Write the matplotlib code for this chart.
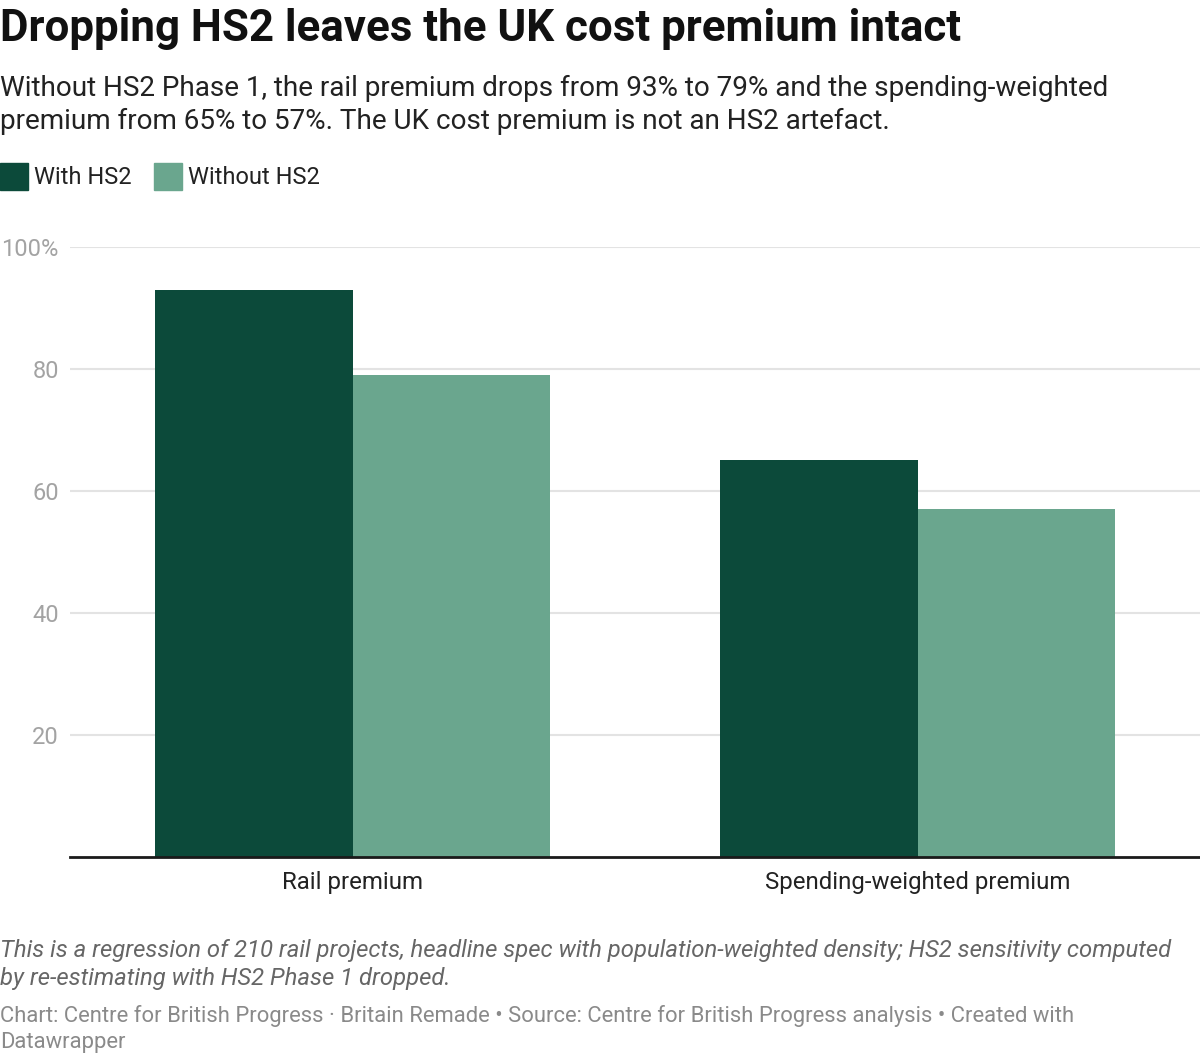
import matplotlib
matplotlib.use('Agg')
import matplotlib.pyplot as plt
from matplotlib.patches import Rectangle
import numpy as np

plt.rcParams['font.family'] = ['Roboto', 'DejaVu Sans']

categories = ['Rail premium', 'Spending-weighted premium']
with_hs2 = [93, 65]
without_hs2 = [79, 57]
series_names = ['With HS2', 'Without HS2']
y_ticks = [20, 40, 60, 80, 100]
y_tick_labels = ['20', '40', '60', '80', '100%']

dark = '#0c4a3a'
light = '#6aa68e'

W, H = 1200, 1054
fig = plt.figure(figsize=(W / 100, H / 100), dpi=100)

def fy(px):
    return 1 - px / H

# axes placed in pixel terms: x 70..1200, y 247 (100) .. 857 (0)
ax = fig.add_axes([70 / W, fy(857), 1 - 70 / W, (857 - 247) / H])

x = np.arange(len(categories))
bw = 0.35
ax.bar(x - bw / 2, with_hs2, bw, color=dark, zorder=2)
ax.bar(x + bw / 2, without_hs2, bw, color=light, zorder=2)

ax.set_xlim(-0.5, 1.5)
ax.set_ylim(0, 100)
ax.set_yticks(y_ticks)
ax.set_yticklabels(y_tick_labels)
ax.set_xticks(x)
ax.set_xticklabels(categories)
ax.tick_params(axis='y', length=0, pad=8, labelsize=17, labelcolor='#a3a3a3')
ax.tick_params(axis='x', length=0, pad=10, labelsize=17.3, labelcolor='#222222')
ax.grid(axis='y', color='#e3e3e3', linewidth=1.5, zorder=0)
ax.set_axisbelow(True)
for s in ['top', 'right', 'left']:
    ax.spines[s].set_visible(False)
ax.spines['bottom'].set_color('#1a1a1a')
ax.spines['bottom'].set_linewidth(2)
ax.spines['bottom'].set_zorder(3)

# header
fig.text(0, fy(41), 'Dropping HS2 leaves the UK cost premium intact',
         fontsize=31.6, fontweight='bold', color='#111111', va='baseline')
fig.text(0, fy(96), 'Without HS2 Phase 1, the rail premium drops from 93% to 79% and the spending-weighted',
         fontsize=20.1, color='#222222', va='baseline')
fig.text(0, fy(129), 'premium from 65% to 57%. The UK cost premium is not an HS2 artefact.',
         fontsize=20.1, color='#222222', va='baseline')

# legend
for i, (name, col) in enumerate(zip(series_names, [dark, light])):
    x0 = [0, 154][i]
    fig.patches.append(Rectangle((x0 / W, fy(190)), 28 / W, 27 / H,
                                 transform=fig.transFigure, color=col))
    fig.text((x0 + 34) / W, fy(184), name, fontsize=17, color='#222222',
             va='baseline')

# notes
note_color = '#666666'
fig.text(0, fy(957), 'This is a regression of 210 rail projects, headline spec with population-weighted density; HS2 sensitivity computed',
         fontsize=17.2, style='italic', color=note_color, va='baseline')
fig.text(0, fy(985), 'by re-estimating with HS2 Phase 1 dropped.',
         fontsize=17.2, style='italic', color=note_color, va='baseline')
fig.text(0, fy(1022), 'Chart: Centre for British Progress · Britain Remade • Source: Centre for British Progress analysis • Created with',
         fontsize=15.8, color='#8a8a8a', va='baseline')
fig.text(0, fy(1048), 'Datawrapper', fontsize=15.8, color='#8a8a8a', va='baseline')

fig.savefig('out.png', dpi=100)
